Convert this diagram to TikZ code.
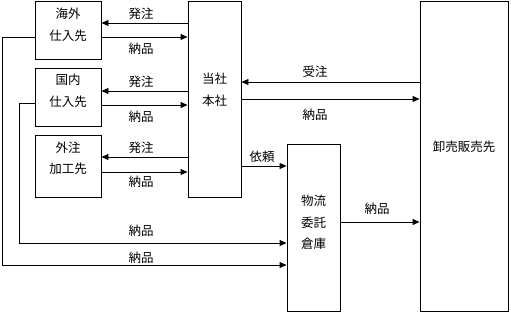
\documentclass[tikz,border=0pt]{standalone}
\usepackage{fontspec}
\setmainfont{Noto Sans CJK JP}
\usetikzlibrary{arrows.meta}
\begin{document}
\begin{tikzpicture}[x=1pt,y=-1pt,
  box/.style={draw, line width=0.9pt, inner sep=0pt},
  txt/.style={font=\fontsize{12.5}{21.5}\selectfont, align=center, inner sep=0pt},
  lbl/.style={font=\fontsize{12.5}{14}\selectfont, inner sep=0pt},
  arr/.style={line width=0.9pt, -{Triangle[length=7pt,width=6pt]}},
  ln/.style={line width=0.9pt}]
\useasboundingbox (0,0) rectangle (511,313);
% boxes
\node[box, minimum width=66pt, minimum height=58pt] (kaigai) at (68,30) {};
\node[box, minimum width=66pt, minimum height=58pt] (kokunai) at (68,97) {};
\node[box, minimum width=66pt, minimum height=62pt] (gaichu) at (68,166) {};
\node[box, minimum width=53pt, minimum height=196pt] (honsha) at (214.5,99) {};
\node[box, minimum width=53pt, minimum height=167pt] (butsu) at (313.5,227.5) {};
\node[box, minimum width=88pt, minimum height=310pt] (oroshi) at (464,156) {};
% box texts
\node[txt] (tkaigai) at (68,25) {海外\\仕入先};
\node[txt] (tkokunai) at (68,91) {国内\\仕入先};
\node[txt] (tgaichu) at (68,158.5) {外注\\加工先};
\node[txt] (thonsha) at (214.5,90) {当社\\本社};
\node[txt] (tbutsu) at (313.5,222.5) {物流\\委託\\倉庫};
\node[lbl] (toroshi) at (464,147) {卸売販売先};
% honsha <-> suppliers
\draw[arr] (honsha.west |- 0,23) -- (kaigai.east |- 0,23);
\draw[arr] (kaigai.east |- 0,37) -- (honsha.west |- 0,37);
\draw[arr] (honsha.west |- 0,91) -- (kokunai.east |- 0,91);
\draw[arr] (kokunai.east |- 0,105) -- (honsha.west |- 0,105);
\draw[arr] (honsha.west |- 0,157) -- (gaichu.east |- 0,157);
\draw[arr] (gaichu.east |- 0,172) -- (honsha.west |- 0,172);
\node[lbl] (l1) at (141,14) {発注};
\node[lbl] (l2) at (141,49) {納品};
\node[lbl] (l3) at (141,82) {発注};
\node[lbl] (l4) at (141,117) {納品};
\node[lbl] (l5) at (141,148) {発注};
\node[lbl] (l6) at (141,182) {納品};
% left return lines
\draw[arr] (kaigai.west |- 0,37) -- (2,37) -- (2,265) -- (butsu.west |- 0,265);
\draw[arr] (kokunai.west |- 0,103) -- (19,103) -- (19,243) -- (butsu.west |- 0,243);
\node[lbl] (l7) at (141,231) {納品};
\node[lbl] (l8) at (141,257.5) {納品};
% honsha <-> oroshi
\draw[arr] (oroshi.west |- 0,82) -- (honsha.east |- 0,82);
\draw[arr] (honsha.east |- 0,99) -- (oroshi.west |- 0,99);
\node[lbl] (l9) at (315,72) {受注};
\node[lbl] (l10) at (315,115) {納品};
% honsha -> butsu
\draw[arr] (honsha.east |- 0,166) -- (butsu.west |- 0,166);
\node[lbl] (l11) at (262,157) {依頼};
% butsu -> oroshi
\draw[arr] (butsu.east |- 0,222) -- (oroshi.west |- 0,222);
\node[lbl] (l12) at (377,209) {納品};
\end{tikzpicture}
\end{document}
